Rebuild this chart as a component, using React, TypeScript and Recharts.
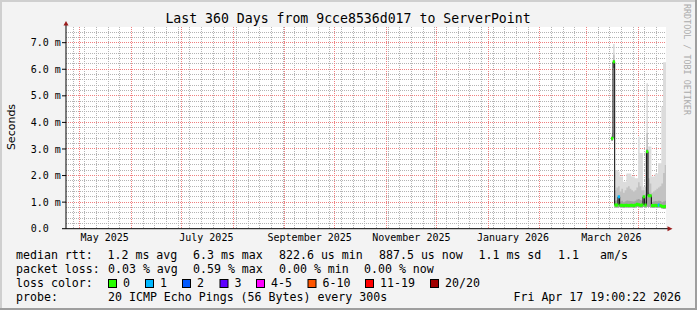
import React from 'react';
import {
  ComposedChart,
  Area,
  Line,
  Scatter,
  XAxis,
  YAxis,
  CartesianGrid,
  ReferenceDot,
} from 'recharts';

const MONO = '"DejaVu Sans Mono", monospace';
const SANS = '"DejaVu Sans", sans-serif';

// ---- time axis ----
const rangeStart = '2025-04-22T19:00:00Z';
const rangeEnd = '2026-04-17T19:00:00Z';
const monthStarts = [
  '2025-05-01', '2025-06-01', '2025-07-01', '2025-08-01', '2025-09-01', '2025-10-01',
  '2025-11-01', '2025-12-01', '2026-01-01', '2026-02-01', '2026-03-01', '2026-04-01',
];
const monthLabelDates = ['2025-05-16', '2025-07-16', '2025-09-16', '2025-11-16', '2026-01-16', '2026-03-16'];
const monthLabels = ['May 2025', 'July 2025', 'September 2025', 'November 2025', 'January 2026', 'March 2026'];
const firstWeekLine = '2025-04-27';

// ---- value axis ----
const yTicks = [0, 1, 2, 3, 4, 5, 6, 7];
const yTickLabels = ['0.0', '1.0 m', '2.0 m', '3.0 m', '4.0 m', '5.0 m', '6.0 m', '7.0 m'];
const yMax = 7.59;

// ---- data (milliseconds) ----
const days = [
  '2026-03-16', '2026-03-17', '2026-03-18', '2026-03-19', '2026-03-20', '2026-03-21', '2026-03-22',
  '2026-03-23', '2026-03-24', '2026-03-25', '2026-03-26', '2026-03-27', '2026-03-28', '2026-03-29',
  '2026-03-30', '2026-03-31', '2026-04-01', '2026-04-02', '2026-04-03', '2026-04-04', '2026-04-05',
  '2026-04-06', '2026-04-07', '2026-04-08', '2026-04-09', '2026-04-10', '2026-04-11', '2026-04-12',
  '2026-04-13', '2026-04-14', '2026-04-15', '2026-04-16', '2026-04-17',
];
const medianMs = [
  3.40, 6.28, 0.89, 0.89, 1.20, 0.88, 0.88, 0.87, 0.88, 0.88, 0.87, 0.88, 0.88, 0.87, 0.89, 0.92,
  0.90, 0.88, 0.89, 1.20, 0.89, 2.90, 1.24, 1.24, 0.87, 0.87, 0.88, 0.87, 0.89, 0.87, 0.84, 0.83, 0.84,
];
const lossCount = [
  0, 0, 0, 0, 1, 0, 0, 0, 0, 0, 0, 0, 0, 0, 0, 0,
  0, 0, 0, 0, 0, 0, 0, 0, 0, 0, 0, 0, 1, 0, 0, 0, 0,
];
const smokeMinMs = [
  3.30, 6.05, 0.80, 0.80, 0.82, 0.80, 0.80, 0.79, 0.80, 0.80, 0.80, 0.80, 0.80, 0.79, 0.80, 0.82,
  0.81, 0.80, 0.80, 0.82, 0.80, 0.83, 0.82, 0.82, 0.79, 0.79, 0.80, 0.79, 0.80, 0.79, 0.76, 0.74, 0.75,
];
const smokeDarkMs = [
  3.42, 6.36, 1.05, 1.08, 1.25, 1.02, 1.05, 1.00, 1.03, 1.06, 1.05, 1.04, 1.03, 1.02, 1.05, 1.10,
  1.12, 1.08, 1.05, 1.25, 1.02, 3.00, 1.35, 1.30, 1.00, 1.02, 1.04, 1.03, 1.05, 1.04, 1.00, 1.02, 1.05,
];
const smokeMidMs = [
  3.48, 6.55, 1.45, 1.55, 1.60, 1.40, 1.50, 1.35, 1.45, 1.55, 1.60, 1.50, 1.45, 1.40, 1.45, 1.55,
  1.75, 1.60, 1.45, 1.45, 1.30, 3.60, 1.90, 1.70, 1.35, 1.40, 1.45, 1.50, 1.55, 1.60, 1.70, 2.10, 2.40,
];
const smokeMaxMs = [
  3.55, 6.95, 2.20, 2.20, 2.15, 1.96, 1.96, 1.77, 1.77, 2.08, 2.08, 2.08, 1.96, 1.96, 1.90, 1.90,
  3.46, 2.85, 2.85, 1.58, 1.58, 5.47, 3.09, 3.09, 1.96, 1.96, 2.08, 2.08, 2.46, 2.46, 4.59, 6.26, 6.26,
];

// ---- legend ----
const lossLevels = ['0', '1', '2', '3', '4-5', '6-10', '11-19', '20/20'];
const lossColors = ['#26ff00', '#00b8ff', '#0059ff', '#5e00ff', '#ff00ff', '#ff5500', '#ff0000', '#a00000'];
const rttStats = ['1.2 ms avg', '6.3 ms max', '822.6 us min', '887.5 us now', '1.1 ms sd', '1.1', 'am/s'];
const lossStats = ['0.03 % avg', '0.59 % max', '0.00 % min', '0.00 % now'];
const probeText = '20 ICMP Echo Pings (56 Bytes) every 300s';
const stampText = 'Fri Apr 17 19:00:22 2026';
const titleText = 'Last 360 Days from 9cce8536d017 to ServerPoint';

// ---- helpers ----
const DAY = 86400000;
const toMs = (s: string) => Date.parse(s.length === 10 ? s + 'T00:00:00Z' : s);
const START = toMs(rangeStart);
const END = toMs(rangeEnd);

const lossColorFor = (n: number) => {
  if (n <= 0) return lossColors[0];
  if (n === 1) return lossColors[1];
  if (n === 2) return lossColors[2];
  if (n === 3) return lossColors[3];
  if (n <= 5) return lossColors[4];
  if (n <= 10) return lossColors[5];
  if (n <= 19) return lossColors[6];
  return lossColors[7];
};

const rows = days.map((d, i) => ({
  t: toMs(d),
  median: medianMs[i],
  min: smokeMinMs[i],
  dark: smokeDarkMs[i],
  mid: smokeMidMs[i],
  max: smokeMaxMs[i],
}));
// close the last step at the graph end
rows.push({ ...rows[rows.length - 1], t: END });

const medianMarks = days.map((d, i) => ({
  t: toMs(d) + DAY / 2,
  median: medianMs[i],
  loss: lossCount[i],
}));

const weekLines: number[] = [];
for (let t = toMs(firstWeekLine); t < END; t += 7 * DAY) weekLines.push(t);
const monthLines = monthStarts.map(toMs);
const labelTicks = monthLabelDates.map(toMs);
const minorY: number[] = [];
for (let k = 1; k * 0.2 < yMax; k++) if (k % 5 !== 0) minorY.push(Math.round(k * 20) / 100);

const XTick = (props: any) => {
  const { x, y, payload } = props;
  const idx = labelTicks.indexOf(payload.value);
  return (
    <text x={x} y={y + 12.5} textAnchor="middle" fontFamily={MONO} fontSize={10} fill="#000">
      {idx >= 0 ? monthLabels[idx] : ''}
    </text>
  );
};

const YTick = (props: any) => {
  const { x, y, payload } = props;
  const idx = yTicks.indexOf(payload.value);
  return (
    <text x={x - 29.3} y={y + 3.6} textAnchor="start" fontFamily={MONO} fontSize={10} fill="#000">
      {idx >= 0 ? yTickLabels[idx] : ''}
    </text>
  );
};

const ARROW = '#9b1c1c';

const UpArrow = (props: any) => {
  const { cx, cy } = props;
  return (
    <g>
      <line x1={cx} y1={cy} x2={cx} y2={cy - 2} stroke="#000" strokeWidth={1} />
      <path d={`M${cx - 2.5},${cy - 1.5} L${cx + 2.5},${cy - 1.5} L${cx},${cy - 6} Z`} fill={ARROW} />
    </g>
  );
};

const RightArrow = (props: any) => {
  const { cx, cy } = props;
  return (
    <g>
      <line x1={cx} y1={cy} x2={cx + 2} y2={cy} stroke="#000" strokeWidth={1} />
      <path d={`M${cx + 1.5},${cy - 2.5} L${cx + 1.5},${cy + 2.5} L${cx + 6.5},${cy} Z`} fill={ARROW} />
    </g>
  );
};

const MedianMark = (props: any) => {
  const { cx, cy, payload } = props;
  if (cx == null || cy == null) return null;
  return <rect x={cx - 1.2} y={cy - 1.5} width={2.4} height={3} fill={lossColorFor(payload.loss)} />;
};

const legendRowY = [259, 272.5, 287, 300.5];
const rttX = [107.5, 193, 279, 379, 478.5, 558, 600];
const lossX = [108, 193, 279, 364];
const boxX = [108, 145, 182, 219.5, 256, 307.5, 365, 430];

export default function App() {
  return (
    <div
      style={{
        position: 'absolute',
        left: 0,
        top: 0,
        width: 697,
        height: 310,
        background: '#f3f3f3',
        overflow: 'hidden',
      }}
    >
      <ComposedChart
        width={697}
        height={310}
        data={rows}
        margin={{ top: 27, right: 31, bottom: 51.3, left: 0 }}
      >
        <CartesianGrid
          fill="#ffffff"
          stroke="#b4b4b4"
          strokeDasharray="1 1"
          shapeRendering="crispEdges"
          horizontalValues={minorY}
          verticalValues={weekLines}
        />
        <CartesianGrid
          stroke="#f08080"
          strokeDasharray="1 1"
          shapeRendering="crispEdges"
          horizontalValues={yTicks.filter((v) => v > 0)}
          verticalValues={monthLines}
        />
        <XAxis
          dataKey="t"
          type="number"
          domain={[START, END]}
          allowDataOverflow
          ticks={labelTicks}
          tick={<XTick />}
          tickLine={false}
          tickSize={0}
          tickMargin={0}
          height={30}
          axisLine={{ stroke: '#000' }}
          interval={0}
        />
        <YAxis
          type="number"
          domain={[0, yMax]}
          allowDataOverflow
          ticks={yTicks}
          tick={<YTick />}
          tickSize={4}
          tickMargin={2}
          tickLine={{ stroke: '#000' }}
          axisLine={{ stroke: '#000' }}
          width={66}
          interval={0}
        />
        <Area
          dataKey={(r: any) => [r.min, r.max]}
          type="stepAfter"
          stroke="none"
          fill="#dcdcdc"
          fillOpacity={1}
          isAnimationActive={false}
        />
        <Area
          dataKey={(r: any) => [r.min, r.mid]}
          type="stepAfter"
          stroke="none"
          fill="#c2c2c2"
          fillOpacity={1}
          isAnimationActive={false}
        />
        <Area
          dataKey={(r: any) => [r.min, r.dark]}
          type="stepAfter"
          stroke="none"
          fill="#a2a2a2"
          fillOpacity={1}
          isAnimationActive={false}
        />
        <Line
          dataKey="median"
          type="stepAfter"
          stroke="#000"
          strokeWidth={1}
          dot={false}
          activeDot={false}
          isAnimationActive={false}
        />
        <Scatter
          data={medianMarks}
          dataKey="median"
          shape={<MedianMark />}
          isAnimationActive={false}
        />
        <ReferenceDot x={START} y={yMax} ifOverflow="visible" shape={<UpArrow />} />
        <ReferenceDot x={END} y={0} ifOverflow="visible" shape={<RightArrow />} />
      </ComposedChart>

      <svg
        width={697}
        height={310}
        style={{ position: 'absolute', left: 0, top: 0, pointerEvents: 'none' }}
      >
        <text x={348} y={23} textAnchor="middle" fontFamily={MONO} fontSize={13.2} fill="#000">
          {titleText}
        </text>
        <text
          transform="translate(15,127) rotate(-90)"
          textAnchor="middle"
          fontFamily={SANS}
          fontSize={11}
          fill="#000"
        >
          Seconds
        </text>
        <text
          transform="translate(684,4) rotate(90)"
          fontFamily={MONO}
          fontSize={8.4}
          fill="#ababab"
        >
          RRDTOOL / TOBI OETIKER
        </text>

        <g fontFamily={MONO} fontSize={11.6} fill="#000">
          <text x={16} y={legendRowY[0]}>median rtt:</text>
          {rttStats.map((s, i) => (
            <text key={'r' + i} x={rttX[i]} y={legendRowY[0]}>{s}</text>
          ))}
          <text x={16} y={legendRowY[1]}>packet loss:</text>
          {lossStats.map((s, i) => (
            <text key={'l' + i} x={lossX[i]} y={legendRowY[1]}>{s}</text>
          ))}
          <text x={16} y={legendRowY[2]}>loss color:</text>
          {lossLevels.map((s, i) => (
            <g key={'c' + i}>
              <rect
                x={boxX[i] + 0.5}
                y={legendRowY[2] - 7.5}
                width={8}
                height={8}
                fill={lossColors[i]}
                stroke="#000"
                strokeWidth={1}
              />
              <text x={boxX[i] + 15} y={legendRowY[2]}>{s}</text>
            </g>
          ))}
          <text x={16} y={legendRowY[3]}>probe:</text>
          <text x={108} y={legendRowY[3]}>{probeText}</text>
          <text x={681} y={legendRowY[3]} textAnchor="end">{stampText}</text>
        </g>
      </svg>

      <div style={{ position: 'absolute', left: 0, top: 0, width: 697, height: 2, background: '#cfcfcf' }} />
      <div style={{ position: 'absolute', left: 0, top: 0, width: 2, height: 310, background: '#cfcfcf' }} />
      <div style={{ position: 'absolute', left: 0, top: 308, width: 697, height: 2, background: '#9e9e9e' }} />
      <div style={{ position: 'absolute', left: 695, top: 0, width: 2, height: 310, background: '#9e9e9e' }} />
    </div>
  );
}
